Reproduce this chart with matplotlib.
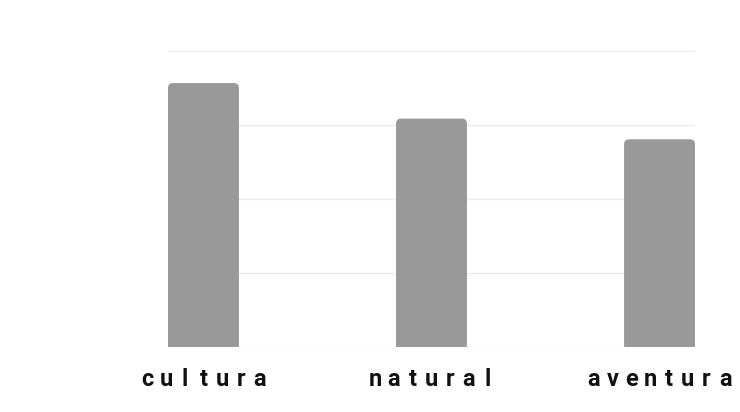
"""Bar chart of trip types with rounded bar tops."""

import matplotlib
matplotlib.use("Agg")
import matplotlib.pyplot as plt
from matplotlib.patches import FancyBboxPatch

categories = ["cultura", "natural", "aventura"]
values = [35.6, 30.8, 28.0]
y_ticks = [0, 10, 20, 30, 40]

bar_color = "#999999"
grid_color = "#ebebeb"
label_font = ["Liberation Sans Narrow", "Roboto"]

fig = plt.figure(figsize=(7.4, 4.12), dpi=100)
ax = fig.add_axes([168 / 740, 65.5 / 412, 527 / 740, 296 / 412])

width = 0.311
bars = ax.bar(range(len(categories)), values, width, color=bar_color)
ax.set_xlim(-width / 2, len(categories) - 1 + width / 2)
ax.set_ylim(y_ticks[0], y_ticks[-1])

# swap plain bars for ones with rounded top corners (bottom pushed below axis)
fig.canvas.draw()
x_per_px = (ax.get_xlim()[1] - ax.get_xlim()[0]) / ax.bbox.width
y_per_px = (ax.get_ylim()[1] - ax.get_ylim()[0]) / ax.bbox.height
radius_px = 5
for rect in bars:
    rect.set_visible(False)
    x, w, h = rect.get_x(), rect.get_width(), rect.get_height()
    drop = 10 * y_per_px
    patch = FancyBboxPatch(
        (x, -drop), w, h + drop,
        boxstyle=f"round,pad=0,rounding_size={radius_px * x_per_px}",
        mutation_aspect=y_per_px / x_per_px,
        facecolor=bar_color, edgecolor="none", zorder=2,
    )
    ax.add_patch(patch)

ax.set_yticks(y_ticks)
ax.set_yticklabels([])
ax.grid(axis="y", color=grid_color, linewidth=1)
ax.set_axisbelow(True)
for spine in ax.spines.values():
    spine.set_visible(False)

# letter-spaced category labels, one character at a time
ax.set_xticks(range(len(categories)))
ax.set_xticklabels([])
ax.tick_params(length=0)
pitch = 13.5  # points between letter centres
for i, name in enumerate(categories):
    n = len(name)
    for k, ch in enumerate(name):
        ax.annotate(ch, xy=(i, 0), xycoords=ax.get_xaxis_transform(),
                    xytext=((k - (n - 1) / 2) * pitch, -28.4),
                    textcoords="offset points", ha="center", va="baseline",
                    fontfamily=label_font, fontweight="bold", fontsize=17,
                    color="#111111", annotation_clip=False)

fig.savefig("out.png", facecolor="white")
plt.close(fig)
